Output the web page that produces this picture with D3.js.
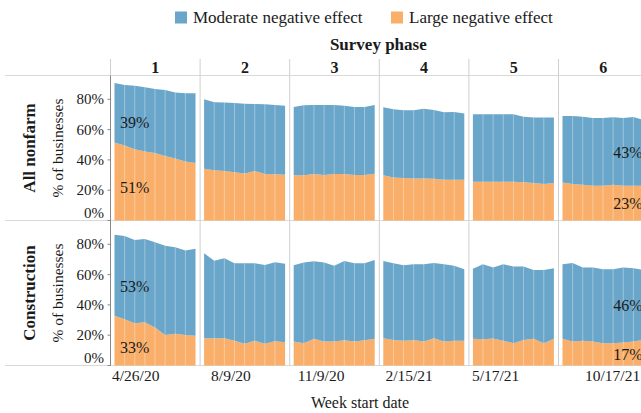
<!DOCTYPE html>
<html>
<head>
<meta charset="utf-8">
<script src="https://cdn.jsdelivr.net/npm/d3@7"></script>
<style>
body{margin:0;background:#fff}
svg text{font-family:'Liberation Serif','Times New Roman','DejaVu Serif',serif;fill:#1a1a1a}
</style>
</head>
<body>
<div id="chart"></div>
<script>
// data (percent of businesses, 9 weeks per phase)
var phases = ["1","2","3","4","5","6"];
var industries = ["All nonfarm","Construction"];
var seriesNames = ["Moderate negative effect","Large negative effect"];
var yTicks = [0,20,40,60,80];
var xTickLabels = ["4/26/20","8/9/20","11/9/20","2/15/21","5/17/21","10/17/21"];
var xTickWeek = [2.1,2.65,2.7,2.55,2.25,4.95];

var largeNonfarm = [
  [51.4,49.5,47,45.5,44.5,42.5,41,39,38],
  [34.2,33.1,32.7,31.8,31.1,32.7,30.7,30.5,30.2],
  [29.8,29.9,30.7,30,30.7,30.7,30,30,30.9],
  [29.8,28.3,28,27.8,27.8,27.6,26.9,26.9,26.9],
  [25.6,25.6,25.6,25.6,25.6,25.2,24.8,24.1,24.8],
  [25,24.1,23.6,23,23,23.6,23,23,23]
];
var moderateNonfarm = [
  [39.3,39.9,42,42.4,42.3,43.6,43.4,45,46],
  [45.8,44.9,45.1,45.7,46,44.2,46,45.7,45.6],
  [45.1,46.1,45.5,46.2,45.5,45.1,44.9,44.9,45.3],
  [44.9,45.1,44.7,44.9,46,45.3,44.5,44.7,43.8],
  [44.5,44.5,44.5,44.5,44.5,43.3,43.1,43.8,43.1],
  [44,44.9,44.9,44.7,44.7,44.5,44.7,45.3,43.4]
];
var largeConstruction = [
  [32.9,30.5,27.9,28.6,25,20.2,20.9,20.2,19.7],
  [18,18,18,16.4,14.3,16.4,14.3,16,15.4],
  [15.8,14.7,17.6,15.8,15.8,16.7,15.8,16.7,17.6],
  [18,16.9,16.4,16.9,15.8,18,15.8,16.4,16.4],
  [17.6,17.4,17.8,16.4,14.7,16.9,17.6,14.7,17.6],
  [17.6,15.8,16.4,15.8,14.7,14.7,15.2,15.8,16.9]
];
var moderateConstruction = [
  [53.4,55,55,54.9,56.3,58.8,57.2,55.7,57.3],
  [56.1,51.2,52.8,51.1,53.2,51.1,52.1,52.2,51.7],
  [50.4,53.2,51.2,52.1,50.1,52.3,51.7,50.8,52.1],
  [51,50.6,49.8,50,51.1,49.7,51.1,49.5,47.2],
  [46.2,49.5,46.8,50.5,50.6,48.4,45.5,48.4,46.6],
  [49.3,51.9,48.2,48.8,48.9,48.9,49.4,48.4,46.2]
];

var large = [largeNonfarm, largeConstruction];
var moderate = [moderateNonfarm, moderateConstruction];

var width = 641, height = 413;
var margin = {left: 110.5, top: 75.5};
var rowH = 145, colW = 89.6;
var colors = ["#69a6ca", "#f9ae69"];
var serif = "'Liberation Serif','Times New Roman','DejaVu Serif',serif";

var svg = d3.select("#chart").append("svg")
  .attr("width", width)
  .attr("height", height)
  .attr("font-family", serif);

var xPanel = d3.scaleBand().domain(phases)
  .range([margin.left, margin.left + colW * phases.length]);
var yRow = d3.scaleBand().domain(industries)
  .range([margin.top, margin.top + rowH * industries.length]);
var y = d3.scaleLinear().domain([0, 95.7]).range([rowH, 0]);
var xWeek = d3.scaleLinear().domain([0, 8]).range([4, 85]);

// legend
var legend = svg.append("g");
var legX = [175, 391];
seriesNames.forEach(function(name, i){
  legend.append("rect")
    .attr("x", legX[i]).attr("y", 11.5)
    .attr("width", 12).attr("height", 12)
    .attr("fill", colors[i]);
  legend.append("text")
    .attr("x", legX[i] + 18).attr("y", 23)
    .style("font-size", "17px")
    .text(name);
});

svg.append("text")
  .attr("x", xPanel.range()[0] + (xPanel.range()[1] - xPanel.range()[0]) / 2 - 1)
  .attr("y", 50)
  .attr("text-anchor", "middle")
  .style("font-size", "17px").style("font-weight", "bold")
  .text("Survey phase");

// phase headers
phases.forEach(function(p){
  svg.append("line")
    .attr("x1", xPanel(p)).attr("x2", xPanel(p))
    .attr("y1", 59).attr("y2", margin.top)
    .attr("stroke", "#cfcfcf");
  svg.append("text")
    .attr("x", xPanel(p) + colW / 2)
    .attr("y", 73.3)
    .attr("text-anchor", "middle")
    .style("font-size", "16px").style("font-weight", "bold")
    .text(p);
});

// horizontal rules
[0, 1, 2].forEach(function(k){
  var yy = margin.top + k * rowH;
  svg.append("line")
    .attr("x1", 5).attr("x2", width)
    .attr("y1", yy).attr("y2", yy)
    .attr("stroke", "#d9d9d9");
});

industries.forEach(function(ind, r){
  var g = svg.append("g").attr("transform", "translate(0," + yRow(ind) + ")");

  // row title
  g.append("text")
    .attr("transform", "translate(35," + (rowH / 2) + ")rotate(-90)")
    .attr("text-anchor", "middle")
    .style("font-size", "17px").style("font-weight", "bold")
    .text(ind);
  g.append("text")
    .attr("transform", "translate(63," + (rowH / 2) + ")rotate(-90)")
    .attr("text-anchor", "middle")
    .style("font-size", "15.5px")
    .text("% of businesses");

  // y axis
  yTicks.forEach(function(t){
    g.append("line")
      .attr("x1", margin.left - 3).attr("x2", margin.left)
      .attr("y1", y(t)).attr("y2", y(t))
      .attr("stroke", "#888");
    g.append("text")
      .attr("x", margin.left - 6.5)
      .attr("y", t == 0 ? y(t) - 3 : y(t))
      .attr("dominant-baseline", t == 0 ? "auto" : "central")
      .attr("text-anchor", "end")
      .style("font-size", "15px")
      .text(t + "%");
  });

  phases.forEach(function(p, pi){
    var x0 = xPanel(p);
    var pts = large[r][pi].map(function(v, i){
      return {i: i, large: v, total: v + moderate[r][pi][i]};
    });
    var pg = g.append("g").attr("transform", "translate(" + x0 + ",0)");

    if (pi > 0) {
      pg.append("line")
        .attr("x1", 0).attr("x2", 0).attr("y1", 0).attr("y2", rowH)
        .attr("stroke", "#cfcfcf");
    }

    var areaLarge = d3.area()
      .x(function(d){ return xWeek(d.i); })
      .y0(y(0))
      .y1(function(d){ return y(d.large); });
    var areaMod = d3.area()
      .x(function(d){ return xWeek(d.i); })
      .y0(function(d){ return y(d.large); })
      .y1(function(d){ return y(d.total); });

    pg.append("path").datum(pts).attr("d", areaLarge).attr("fill", colors[1]);
    pg.append("path").datum(pts).attr("d", areaMod).attr("fill", colors[0]);

    pg.selectAll("line.wk")
      .data(pts.slice(1, -1))
      .enter().append("line")
      .attr("class", "wk")
      .attr("x1", function(d){ return xWeek(d.i); })
      .attr("x2", function(d){ return xWeek(d.i); })
      .attr("y1", y(0))
      .attr("y2", function(d){ return y(d.total); })
      .attr("stroke", "#fff")
      .attr("stroke-opacity", 0.35)
      .attr("stroke-width", 1);

    // value labels on the first and last phase
    if (pi == 0 || pi == phases.length - 1) {
      var k = pi == 0 ? 0 : pts.length - 1;
      var meanL = d3.mean(pts, function(d){ return d.large; });
      var meanT = d3.mean(pts, function(d){ return d.total; });
      var lx = pi == 0 ? xWeek(k) + 5.5 : xWeek(k) - 1;
      var anchor = pi == 0 ? "start" : "end";
      pg.append("text")
        .attr("x", lx).attr("y", y((meanL + meanT) / 2) + 1)
        .attr("dominant-baseline", "central")
        .attr("text-anchor", anchor)
        .style("font-size", "16px")
        .text(Math.round(pts[k].total - pts[k].large) + "%");
      pg.append("text")
        .attr("x", lx).attr("y", y(meanL / 2) + 1)
        .attr("dominant-baseline", "central")
        .attr("text-anchor", anchor)
        .style("font-size", "16px")
        .text(Math.round(pts[k].large) + "%");
    }
  });

  // axis line
  g.append("line")
    .attr("x1", margin.left).attr("x2", margin.left)
    .attr("y1", 0).attr("y2", rowH)
    .attr("stroke", "#888");
});

// x tick labels
var bottom = margin.top + rowH * industries.length;
phases.forEach(function(p, pi){
  svg.append("text")
    .attr("x", xPanel(p) + xWeek(xTickWeek[pi]))
    .attr("y", bottom + 15.5)
    .attr("text-anchor", "middle")
    .style("font-size", "15.5px")
    .text(xTickLabels[pi]);
});

svg.append("text")
  .attr("x", 360).attr("y", 408)
  .attr("text-anchor", "middle")
  .style("font-size", "16px")
  .text("Week start date");
</script>
</body>
</html>
